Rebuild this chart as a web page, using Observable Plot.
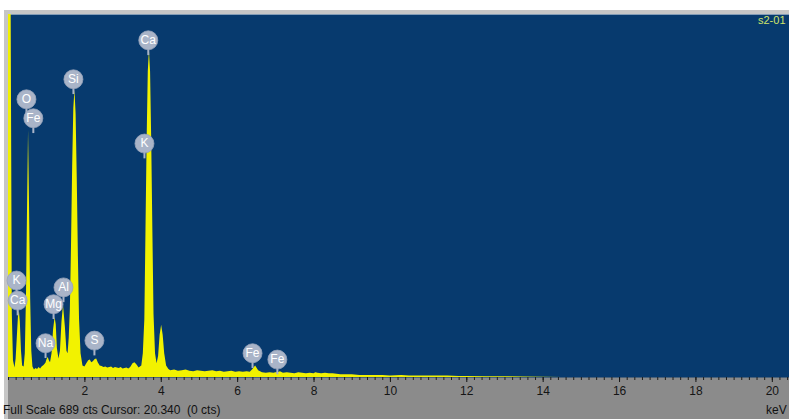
<!DOCTYPE html>
<html><head><meta charset="utf-8">
<script src="https://cdn.jsdelivr.net/npm/d3@7"></script>
<script src="https://cdn.jsdelivr.net/npm/@observablehq/plot@0.6"></script>
<style>
body{margin:0;background:#fff;width:789px;height:419px;overflow:hidden;position:relative;font-family:"Liberation Sans",Arial,sans-serif}
.b{position:absolute}
#chart{position:absolute;left:0;top:0}
</style></head><body>
<div class="b" style="left:4px;top:10px;width:785px;height:4px;background:#c6c6c6"></div>
<div class="b" style="left:4px;top:10px;width:4px;height:409px;background:#c6c6c6"></div>
<div class="b" style="left:8px;top:377px;width:781px;height:42px;background:#8b8b8b"></div>
<div id="chart"></div>
<div class="b" style="left:3px;top:403px;font-size:12px;color:#111;white-space:pre">Full Scale 689 cts Cursor: 20.340  (0 cts)</div>
<div class="b" style="left:766px;top:403px;font-size:12px;color:#111">keV</div>
<div class="b" style="left:758px;top:14px;font-size:11px;color:#cfe36a">s2-01</div>
<script>
// Spectrum outline (keV, counts)
const energy = [0.00,0.07,0.10,0.13,0.17,0.20,0.23,0.26,0.285,0.31,0.34,0.37,0.41,0.44,0.47,0.50,0.525,0.55,0.58,0.61,0.64,0.68,0.72,0.76,0.80,0.84,0.88,0.93,0.98,1.01,1.04,1.07,1.10,1.14,1.18,1.22,1.25,1.28,1.32,1.36,1.40,1.44,1.49,1.53,1.56,1.59,1.62,1.65,1.68,1.71,1.74,1.77,1.80,1.83,1.86,1.90,1.95,2.00,2.05,2.10,2.14,2.18,2.22,2.27,2.31,2.35,2.40,2.45,2.50,2.55,2.60,2.65,2.70,2.75,2.80,2.85,2.90,2.95,3.00,3.05,3.10,3.15,3.20,3.26,3.31,3.36,3.42,3.49,3.53,3.57,3.60,3.63,3.66,3.69,3.72,3.75,3.78,3.81,3.85,3.89,3.93,3.97,4.01,4.05,4.09,4.14,4.20,4.25,4.35,4.45,4.55,4.65,4.75,4.85,4.95,5.05,5.15,5.25,5.35,5.45,5.55,5.65,5.75,5.85,5.95,6.05,6.15,6.25,6.33,6.40,6.47,6.55,6.65,6.75,6.85,6.95,7.00,7.06,7.12,7.20,7.30,7.40,7.50,7.60,7.70,7.80,7.90,8.00,8.05,8.10,8.20,8.30,8.40,8.50,8.60,8.70,8.80,9.00,9.20,9.50,9.80,10.00,10.30,10.50,10.80,11.00,11.30,11.50,11.80,12.00,12.50,13.00,13.50,14.00,14.50,15.00,15.30,15.50,20.50];
const counts = [689,689,120,32,18,35,75,115,127,105,50,22,20,45,150,330,469,330,150,50,20,14,17,15,19,16,20,23,27,34,38,32,28,45,90,114,100,55,35,50,105,137,95,50,45,75,130,250,400,510,545,500,380,230,110,45,22,20,26,32,33,28,30,34,35,28,22,21,19,20,18,19,20,17,19,18,17,19,16,17,18,16,19,26,28,24,18,22,45,110,280,450,580,621,580,450,280,120,45,26,40,80,99,80,45,22,15,13,14,12,13,14,12,11,13,12,11,12,13,11,12,10,11,12,10,11,10,11,10,15,22,13,9,8,9,8,9,9,11,8,9,8,7,9,8,7,8,7,9,8,7,8,7,7,6,5,5,5,4,4,4,3,4,3,3,3,3,3,2,2,1.5,1.5,1,0.5,0,0];

// Element labels (name, keV, counts at circle centre)
const labelNames  = ["Ca","K","Si","O","Fe","K","Ca","Al","Mg","Na","S","Fe","Fe"];
const labelEnergy = [3.66,3.56,1.70,0.47,0.65,0.21,0.24,1.44,1.18,0.97,2.25,6.39,7.04];
const labelCounts = [640,444,566,528,492,184,146,171,139,65,70,46,34];

const tickLabels = [2,4,6,8,10,12,14,16,18,20];
const minorTicks = d3.range(0, 20.41, 0.2);

const spectrum = energy.map((e,i)=>({e, c: counts[i]}));
const labels = labelNames.map((n,i)=>({n, e: labelEnergy[i], c: labelCounts[i]}));

const plot = Plot.plot({
  width: 789, height: 419,
  marginTop: 14, marginBottom: 42, marginLeft: 8, marginRight: 0,
  x: {domain: [0, 20.45], label: null},
  y: {domain: [0, 689], axis: null},
  style: {background: "transparent", fontFamily: "Liberation Sans, Arial, sans-serif", overflow: "visible"},
  marks: [
    Plot.frame({fill: "#073a6e", stroke: null}),
    Plot.areaY(spectrum, {x: "e", y: "c", fill: "#f2f200", curve: "linear", clip: true}),
    Plot.axisX({ticks: minorTicks, tickSize: 3, tickFormat: () => "", color: "#1e1e1e"}),
    Plot.axisX({ticks: tickLabels, tickSize: 5, tickPadding: 4, fontSize: 12, color: "#151515", tickFormat: d => String(d)}),
    Plot.ruleX(labels, {x: "e", y1: "c", y2: d => d.c - 29, stroke: "#aab4c8", strokeWidth: 2}),
    Plot.dot(labels, {x: "e", y: "c", r: 9.5, fill: "#a9b4c8", stroke: "#97a3ba", strokeWidth: 0.8}),
    Plot.text(labels, {x: "e", y: "c", text: "n", fill: "white", fontSize: 12})
  ]
});
document.getElementById("chart").appendChild(plot);
</script>
</body></html>
